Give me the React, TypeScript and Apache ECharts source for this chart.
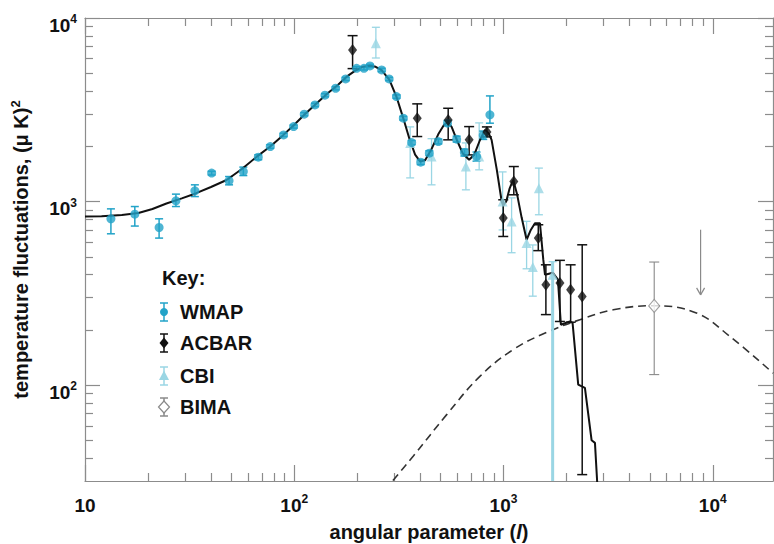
import React, { useEffect, useRef } from 'react';
import * as echarts from 'echarts';

// ---------- axis settings ----------
const X_MIN = 10;
const X_MAX = 19400;
const Y_MIN = 30;
const Y_MAX = 10000;
const xTickLabels = [10, 100, 1000, 10000];
const yTickLabels = [100, 1000, 10000];
const xMinorTicks = [20, 30, 40, 50, 60, 70, 80, 90, 200, 300, 400, 500, 600, 700, 800, 900, 2000, 3000, 4000, 5000, 6000, 7000, 8000, 9000];
const yMinorTicks = [40, 50, 60, 70, 80, 90, 200, 300, 400, 500, 600, 700, 800, 900, 2000, 3000, 4000, 5000, 6000, 7000, 8000, 9000];
const yTitle = 'temperature fluctuations, (μ K)';

// ---------- theory curve (solid) [l, value] ----------
const theoryCurve: number[][] = [
  [10, 829], [12, 832], [15, 845], [18, 865], [21, 910], [24.5, 975], [29, 1040], [34, 1110],
  [40, 1200], [47.5, 1310], [56, 1500], [66, 1750], [77, 2000], [88.5, 2300], [100, 2620],
  [112, 2980], [128, 3430], [145, 3900], [162, 4330], [178, 4790], [195, 5150], [213, 5430],
  [230, 5500], [245, 5420], [262, 5180], [285, 4600], [308, 3720], [332, 2840], [355, 2200],
  [378, 1800], [400, 1650], [422, 1680], [450, 1900], [490, 2350], [520, 2620], [540, 2700],
  [565, 2550], [600, 2150], [640, 1820], [685, 1690], [725, 1800], [770, 2150], [815, 2450],
  [850, 2350], [877, 2168], [929, 1488], [980, 1000], [997, 950], [1030, 1000], [1070, 1180],
  [1112, 1313], [1160, 1100], [1220, 820], [1289, 619], [1350, 700], [1413, 762], [1493, 762],
  [1549, 482], [1578, 399], [1722, 409], [1820, 375], [1880, 213], [2075, 222], [2138, 218],
  [2275, 100.5], [2449, 96.4], [2636, 50], [2735, 48.4], [2803, 29.6], [2830, 25],
];

// ---------- dashed curve [l, value] ----------
const dashedCurve: number[][] = [
  [270, 26.6], [297, 30.3], [370, 40.9], [535, 69], [771, 111.5], [1112, 156], [1607, 193.6],
  [2317, 227], [3342, 257], [5188, 270.5], [8353, 247], [12070, 184], [19440, 116],
];

// ---------- data points [l, value, low, high] ----------
const wmapPoints: number[][] = [
  [13.3, 805, 667, 912], [17.3, 853, 735, 939], [22.6, 722, 632, 805], [27.2, 1009, 939, 1097],
  [33.5, 1144, 1064, 1233], [40.3, 1428, 1395, 1462], [48.8, 1296, 1233, 1368], [57.1, 1457, 1385, 1540],
  [67.3, 1745, 1690, 1800], [76.8, 1993, 1950, 2040], [88.9, 2307, 2260, 2355], [99.3, 2560, 2510, 2610],
  [111.6, 2991, 2930, 3050], [125.6, 3360, 3290, 3430], [140.2, 3795, 3720, 3870], [157.7, 4142, 4060, 4225],
  [176, 4656, 4560, 4750], [198.6, 5321, 5210, 5430], [215.3, 5321, 5210, 5430], [230, 5480, 5370, 5590],
  [261.6, 5212, 5100, 5320], [284, 4656, 4560, 4750], [308, 3729, 3650, 3810], [332, 2845, 2780, 2910],
  [364, 2095, 2040, 2150], [402, 1639, 1590, 1690], [442, 1834, 1780, 1890], [488, 2122, 2060, 2190],
  [540, 2672, 2590, 2760], [597, 2187, 2110, 2270], [650, 1850, 1770, 1930], [743, 1758, 1660, 1860],
  [800, 2300, 2180, 2420], [861, 2966, 2672, 3762],
];
const acbarPoints: number[][] = [
  [190, 6698, 5300, 8013], [387, 2845, 2260, 3405], [544, 2784, 2168, 3222], [685, 2168, 1795, 2560],
  [833, 2393, 2250, 2550], [997, 812, 645, 1022], [1120, 1285, 1088, 1551], [1466, 632, 540, 747],
  [1594, 352, 242, 452], [1860, 360, 222, 478], [2093, 331, 220, 452], [2377, 304, 32.5, 581],
];
const cbiPoints: number[][] = [
  [245.5, 7280, 6054, 8900], [358, 2086, 1345, 2551], [453, 1758, 1233, 2200], [661, 1551, 1158, 2086],
  [765, 1758, 1488, 2682], [990, 1000, 700, 1450], [1093, 778, 526, 1047], [1289, 594, 430, 780],
  [1380, 440, 305, 580], [1476, 1183, 847, 1521], [1717, 399, 10, 470],
];
const bimaPoints: number[][] = [[5250, 270, 114, 468]];
// upper limit [l, top, arrow tip]
const upperLimits: number[][] = [[8745, 702, 310]];

const FONT = '"Liberation Sans", Arial, Helvetica, sans-serif';
const WMAP_COLOR = '#22a3c8';
const CBI_COLOR = '#9ad6e4';
const ACBAR_COLOR = '#111111';
const BIMA_COLOR = '#8a8a8a';
const AXIS_COLOR = '#8c8c8c';

const powLabel = (v: number, allowed: number[]) => {
  const hit = allowed.find((a) => Math.abs(a - v) < a * 1e-6);
  if (hit === undefined) return '';
  const e = Math.round(Math.log10(hit));
  if (e === 1) return '{b|10}';
  return `{b|10}{s|${e}}`;
};

const tickRich = {
  b: { fontSize: 19, fontWeight: 'bold', fontFamily: FONT, color: '#111', lineHeight: 24 },
  s: { fontSize: 12, fontWeight: 'bold', fontFamily: FONT, color: '#111', lineHeight: 14, verticalAlign: 'top' },
};

function errorBarSeries(name: string, data: number[][], color: string, width: number, cap: number, z: number) {
  return {
    type: 'custom',
    name,
    data,
    clip: true,
    z,
    silent: true,
    encode: { x: 0, y: 1 },
    renderItem: (_p: any, api: any) => {
      const l = api.value(0);
      const lo = api.value(2);
      const hi = api.value(3);
      const a = api.coord([l, hi]);
      const b = api.coord([l, lo]);
      const w = lo < Y_MIN ? 3 : width;
      return {
        type: 'group',
        children: [
          { type: 'line', shape: { x1: a[0], y1: a[1], x2: b[0], y2: b[1] }, style: { stroke: color, lineWidth: w } },
          { type: 'line', shape: { x1: a[0] - cap, y1: a[1], x2: a[0] + cap, y2: a[1] }, style: { stroke: color, lineWidth: width } },
          { type: 'line', shape: { x1: b[0] - cap, y1: b[1], x2: b[0] + cap, y2: b[1] }, style: { stroke: color, lineWidth: width } },
        ],
      };
    },
  };
}

// frame axis (no labels) carrying a set of inward ticks
function frameX(position: string, ticks: number[], len: number, showLine: boolean) {
  return {
    type: 'log', min: X_MIN, max: X_MAX, position,
    axisLine: { show: showLine, lineStyle: { color: AXIS_COLOR, width: 1.2 } },
    axisTick: { show: true, inside: true, length: len, customValues: ticks, lineStyle: { color: AXIS_COLOR, width: 1.2 } },
    axisLabel: { show: false }, splitLine: { show: false },
  };
}
function frameY(position: string, ticks: number[], len: number, showLine: boolean) {
  return {
    type: 'log', min: Y_MIN, max: Y_MAX, position,
    axisLine: { show: showLine, lineStyle: { color: AXIS_COLOR, width: 1.2 } },
    axisTick: { show: true, inside: true, length: len, customValues: ticks, lineStyle: { color: AXIS_COLOR, width: 1.2 } },
    axisLabel: { show: false }, splitLine: { show: false },
  };
}

export default function App() {
  const ref = useRef<HTMLDivElement>(null);
  useEffect(() => {
    if (!ref.current) return;
    const chart = echarts.init(ref.current, undefined, { renderer: 'svg' });

    const legendRows = [
      { name: 'WMAP', y: 312, color: WMAP_COLOR, kind: 'circle' },
      { name: 'ACBAR', y: 343, color: ACBAR_COLOR, kind: 'diamond' },
      { name: 'CBI', y: 376, color: CBI_COLOR, kind: 'triangle' },
      { name: 'BIMA', y: 407, color: BIMA_COLOR, kind: 'emptyDiamond' },
    ];
    const lx = 164;
    const graphics: any[] = [
      { type: 'text', x: 162, y: 278, style: { text: 'Key:', fontSize: 20, fontWeight: 'bold', fontFamily: FONT, fill: '#111', verticalAlign: 'middle' } },
    ];
    legendRows.forEach((r) => {
      graphics.push({ type: 'line', shape: { x1: lx, y1: r.y - 9, x2: lx, y2: r.y + 9 }, style: { stroke: r.color, lineWidth: 1.5 } });
      graphics.push({ type: 'line', shape: { x1: lx - 4, y1: r.y - 9, x2: lx + 4, y2: r.y - 9 }, style: { stroke: r.color, lineWidth: 1.5 } });
      graphics.push({ type: 'line', shape: { x1: lx - 4, y1: r.y + 9, x2: lx + 4, y2: r.y + 9 }, style: { stroke: r.color, lineWidth: 1.5 } });
      if (r.kind === 'circle') {
        graphics.push({ type: 'circle', shape: { cx: lx, cy: r.y, r: 4 }, style: { fill: r.color } });
      } else if (r.kind === 'diamond') {
        graphics.push({ type: 'polygon', shape: { points: [[lx, r.y - 5.5], [lx + 4.5, r.y], [lx, r.y + 5.5], [lx - 4.5, r.y]] }, style: { fill: r.color } });
      } else if (r.kind === 'triangle') {
        graphics.push({ type: 'polygon', shape: { points: [[lx, r.y - 5.5], [lx + 5, r.y + 4], [lx - 5, r.y + 4]] }, style: { fill: r.color } });
      } else {
        graphics.push({ type: 'polygon', shape: { points: [[lx, r.y - 6], [lx + 5.5, r.y], [lx, r.y + 6], [lx - 5.5, r.y]] }, style: { fill: '#fff', stroke: r.color, lineWidth: 1.2 } });
      }
      graphics.push({ type: 'text', x: 180, y: r.y, style: { text: r.name, fontSize: 20, fontWeight: 'bold', fontFamily: FONT, fill: '#111', verticalAlign: 'middle' } });
    });

    const option: any = {
      animation: false,
      grid: { left: 85, right: 1, top: 18, bottom: 63, containLabel: false, outerBoundsMode: 'none' },
      xAxis: [
        {
          type: 'log', min: X_MIN, max: X_MAX, position: 'bottom',
          axisLine: { show: true, lineStyle: { color: AXIS_COLOR, width: 1.2 } },
          axisTick: { show: true, inside: true, length: 16, customValues: xTickLabels, lineStyle: { color: AXIS_COLOR, width: 1.2 } },
          splitLine: { show: false },
          axisLabel: { margin: 12, customValues: xTickLabels, formatter: (v: number) => powLabel(v, xTickLabels), rich: tickRich },
          name: '{t|angular parameter (}{i|l}{t|)}',
          nameLocation: 'middle', nameGap: 40,
          nameTextStyle: {
            rich: {
              t: { fontSize: 20, fontWeight: 'bold', fontFamily: FONT, color: '#111', lineHeight: 22 },
              i: { fontSize: 20, fontWeight: 'bold', fontStyle: 'italic', fontFamily: FONT, color: '#111', lineHeight: 22 },
            },
          },
        },
        frameX('top', xTickLabels, 16, true),
        frameX('bottom', xMinorTicks, 8, false),
        frameX('top', xMinorTicks, 8, false),
      ],
      yAxis: [
        {
          type: 'log', min: Y_MIN, max: Y_MAX, position: 'left',
          axisLine: { show: true, lineStyle: { color: AXIS_COLOR, width: 1.2 } },
          axisTick: { show: true, inside: true, length: 15, customValues: yTickLabels, lineStyle: { color: AXIS_COLOR, width: 1.2 } },
          splitLine: { show: false },
          axisLabel: { margin: 8, padding: [14, 0, 0, 0], customValues: yTickLabels, formatter: (v: number) => powLabel(v, yTickLabels), rich: tickRich },
          name: `{t|${yTitle}}{s|2}`,
          nameLocation: 'middle', nameGap: 52, nameRotate: 90,
          nameTextStyle: {
            rich: {
              t: { fontSize: 20, fontWeight: 'bold', fontFamily: FONT, color: '#111', lineHeight: 24 },
              s: { fontSize: 13, fontWeight: 'bold', fontFamily: FONT, color: '#111', lineHeight: 14, verticalAlign: 'top' },
            },
          },
        },
        frameY('right', yTickLabels, 15, true),
        frameY('left', yMinorTicks, 8, false),
        frameY('right', yMinorTicks, 8, false),
      ],
      graphic: graphics,
      series: [
        {
          type: 'line', name: 'dashed', data: dashedCurve, smooth: 0.4, showSymbol: false, clip: true, z: 2, silent: true,
          lineStyle: { color: '#333', width: 1.6, type: [8, 5] },
        },
        errorBarSeries('CBI err', cbiPoints, CBI_COLOR, 1.3, 4, 3),
        errorBarSeries('BIMA err', bimaPoints, BIMA_COLOR, 1.1, 5, 3),
        errorBarSeries('WMAP err', wmapPoints, WMAP_COLOR, 1.5, 4, 4),
        errorBarSeries('ACBAR err', acbarPoints, ACBAR_COLOR, 1.5, 5, 5),
        {
          type: 'line', name: 'theory', data: theoryCurve, smooth: false, showSymbol: false, clip: true, z: 6, silent: true,
          lineStyle: { color: '#111', width: 2 },
        },
        {
          type: 'custom', name: 'upper limit', data: upperLimits, clip: true, silent: true, z: 3,
          encode: { x: 0, y: 1 },
          renderItem: (_p: any, api: any) => {
            const a = api.coord([api.value(0), api.value(1)]);
            const b = api.coord([api.value(0), api.value(2)]);
            return { type: 'group', children: [
              { type: 'line', shape: { x1: a[0], y1: a[1], x2: b[0], y2: b[1] }, style: { stroke: BIMA_COLOR, lineWidth: 1.2 } },
              { type: 'line', shape: { x1: b[0] - 4, y1: b[1] - 7, x2: b[0], y2: b[1] }, style: { stroke: BIMA_COLOR, lineWidth: 1.2 } },
              { type: 'line', shape: { x1: b[0] + 4, y1: b[1] - 7, x2: b[0], y2: b[1] }, style: { stroke: BIMA_COLOR, lineWidth: 1.2 } },
            ] };
          },
        },
        {
          type: 'scatter', name: 'CBI', data: cbiPoints.map((p) => [p[0], p[1]]), symbol: 'triangle', symbolSize: 10, z: 7, silent: true,
          itemStyle: { color: CBI_COLOR },
        },
        {
          type: 'scatter', name: 'BIMA', data: bimaPoints.map((p) => [p[0], p[1]]), symbol: 'diamond', symbolSize: [11, 13], z: 7, silent: true,
          itemStyle: { color: '#fff', borderColor: BIMA_COLOR, borderWidth: 1.2 },
        },
        {
          type: 'scatter', name: 'WMAP', data: wmapPoints.map((p) => [p[0], p[1]]), symbol: 'circle', symbolSize: 9, z: 8, silent: true,
          itemStyle: { color: WMAP_COLOR },
        },
        {
          type: 'scatter', name: 'ACBAR', data: acbarPoints.map((p) => [p[0], p[1]]), symbol: 'diamond', symbolSize: [9, 12], z: 9, silent: true,
          itemStyle: { color: ACBAR_COLOR },
        },
      ],
    };
    chart.setOption(option);
    return () => chart.dispose();
  }, []);
  return <div ref={ref} style={{ position: 'absolute', left: 0, top: 0, width: 774, height: 544, background: '#fff' }} />;
}
